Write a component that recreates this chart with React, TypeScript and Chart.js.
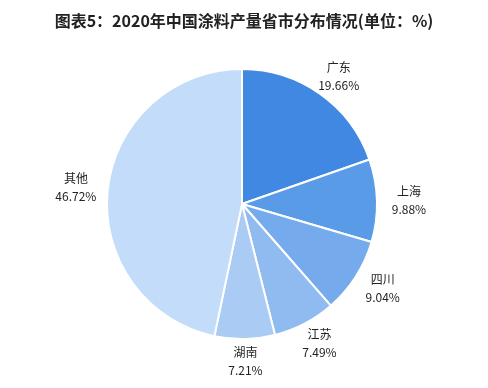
import React, { useEffect, useRef } from "react";
import { Chart, registerables } from "chart.js";

Chart.register(...registerables);

const TITLE = "图表5：2020年中国涂料产量省市分布情况(单位：%)";
const categories = ["广东", "上海", "四川", "江苏", "湖南", "其他"];
const values = [19.66, 9.88, 9.04, 7.49, 7.21, 46.72];
const colors = ["#4088E2", "#5A9BE8", "#75AAEC", "#8FBBF0", "#A9CBF4", "#C2DCF9"];

const FONT = '"Noto Sans CJK SC", "Noto Sans", sans-serif';

const labelPlugin = {
  id: "outLabels",
  afterDatasetsDraw(chart: any) {
    const ctx = chart.ctx;
    const meta = chart.getDatasetMeta(0);
    ctx.save();
    ctx.fillStyle = "#222";
    ctx.font = `12px ${FONT}`;
    ctx.textAlign = "center";
    ctx.textBaseline = "middle";
    meta.data.forEach((arc: any, i: number) => {
      const p = arc.getProps(["x", "y", "startAngle", "endAngle", "outerRadius"], true);
      const mid = (p.startAngle + p.endAngle) / 2;
      const rx = p.outerRadius + 32;
      const ry = p.outerRadius + 22;
      const cx = p.x + Math.cos(mid) * rx;
      const cy = p.y + Math.sin(mid) * ry;
      ctx.fillText(categories[i], cx, cy - 9);
      ctx.fillText(values[i].toFixed(2) + "%", cx, cy + 9);
    });
    ctx.restore();
  },
};

const titlePlugin = {
  id: "customTitle",
  afterDraw(chart: any) {
    const ctx = chart.ctx;
    ctx.save();
    ctx.fillStyle = "#222";
    ctx.font = `bold 16px ${FONT}`;
    ctx.textAlign = "center";
    ctx.textBaseline = "middle";
    ctx.fillText(TITLE, chart.width / 2, 21);
    ctx.restore();
  },
};

export default function App() {
  const ref = useRef<HTMLCanvasElement | null>(null);
  useEffect(() => {
    document.body.style.margin = "0";
    const canvas = ref.current!;
    const chart = new Chart(canvas, {
      type: "pie",
      data: {
        labels: categories,
        datasets: [
          {
            data: values,
            backgroundColor: colors,
            borderColor: "#ffffff",
            borderWidth: 2,
          },
        ],
      },
      options: {
        responsive: false,
        animation: false,
        layout: { padding: { top: 68, bottom: 48, left: 106, right: 110 } },
        plugins: {
          legend: { display: false },
          title: { display: false },
          tooltip: { enabled: false },
        },
      },
      plugins: [labelPlugin, titlePlugin],
    });
    return () => chart.destroy();
  }, []);
  return (
    <div style={{ width: 488, height: 388, background: "#fff" }}>
      <canvas ref={ref} width={488} height={388} style={{ display: "block" }} />
    </div>
  );
}
